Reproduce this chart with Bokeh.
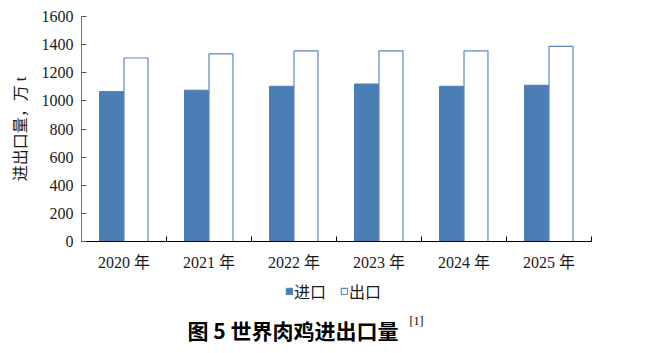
from bokeh.plotting import figure
from bokeh.models import ColumnDataSource, FixedTicker, Legend, LegendItem, Label, Range1d
from bokeh.layouts import column
from bokeh.transform import dodge
from bokeh.embed import file_html
from bokeh.resources import INLINE

years = ["2020 年", "2021 年", "2022 年", "2023 年", "2024 年", "2025 年"]
imports = [1066, 1076, 1104, 1120, 1104, 1111]
exports = [1305, 1334, 1355, 1355, 1355, 1388]
y_ticks = [0, 200, 400, 600, 800, 1000, 1200, 1400, 1600]
series = ["进口", "出口"]
caption = "图 5   世界肉鸡进出口量"
caption_ref = "[1]"

SERIF = "Liberation Serif, Noto Sans CJK SC"
BLUE = "#4a7eb5"
EDGE = "#5a88bf"
TXT = "#1a1a1a"

pos = [i + 0.5 for i in range(len(years))]
src = ColumnDataSource(dict(x=pos, imp=imports, exp=exports))

H_MAIN = 274
p = figure(width=649, height=H_MAIN, output_backend="svg", toolbar_location=None,
           x_range=Range1d(0, len(years)), y_range=Range1d(0, 1600),
           min_border_left=81, min_border_right=58, min_border_top=16, min_border_bottom=33)
p.outline_line_color = None
p.xgrid.grid_line_color = None
p.ygrid.grid_line_color = None

p.vbar(x=dodge("x", -0.147, range=p.x_range), top="imp", width=0.282, source=src,
       fill_color=BLUE, line_color=BLUE, line_width=1)
p.vbar(x=dodge("x", 0.141, range=p.x_range), top="exp", width=0.282, source=src,
       fill_color="white", line_color=EDGE, line_width=1.2)

# x axis: labels at centers, minor ticks at category boundaries (inward)
p.xaxis.ticker = FixedTicker(ticks=pos, minor_ticks=list(range(len(years) + 1)))
p.xaxis.major_label_overrides = {v: s for v, s in zip(pos, years)}
p.xaxis.major_tick_line_color = None
p.xaxis.minor_tick_in = 5
p.xaxis.minor_tick_out = 0
p.xaxis.minor_tick_line_color = "black"
p.xaxis.axis_line_color = "black"
p.xaxis.major_label_text_font = SERIF
p.xaxis.major_label_text_font_size = "16px"
p.xaxis.major_label_text_color = TXT
p.xaxis.major_label_standoff = 6

p.yaxis.ticker = FixedTicker(ticks=y_ticks, minor_ticks=[])
p.yaxis.major_tick_in = 5
p.yaxis.major_tick_out = 0
p.yaxis.major_tick_line_color = "#555555"
p.yaxis.axis_line_color = "#777777"
p.yaxis.major_label_text_font = SERIF
p.yaxis.major_label_text_font_size = "16px"
p.yaxis.major_label_text_color = TXT
p.yaxis.major_label_standoff = 8
p.yaxis.axis_label = "进出口量，万 t"
p.yaxis.axis_label_text_font = SERIF
p.yaxis.axis_label_text_font_size = "16px"
p.yaxis.axis_label_text_font_style = "normal"
p.yaxis.axis_label_text_color = TXT
p.yaxis.axis_label_standoff = 10

# caption panel: legend + figure title (data units = page pixels)
H_CAP = 353 - H_MAIN
c = figure(width=649, height=H_CAP, output_backend="svg", toolbar_location=None,
           x_range=Range1d(81, 591), y_range=Range1d(353, H_MAIN),
           x_axis_type=None, y_axis_type=None,
           min_border_left=81, min_border_right=58, min_border_top=0, min_border_bottom=0)
c.outline_line_color = None
c.xgrid.grid_line_color = None
c.ygrid.grid_line_color = None
d_imp = c.vbar(x="x", top="imp", width=1, source=src, fill_color=BLUE, line_color=BLUE,
               visible=False)
d_exp = c.vbar(x="x", top="exp", width=1, source=src, fill_color="white", line_color=EDGE,
               line_width=1.2, visible=False)

legend = Legend(items=[LegendItem(label=series[0], renderers=[d_imp]),
                       LegendItem(label=series[1], renderers=[d_exp])],
                location=(285 - 81, 50), orientation="horizontal",
                glyph_width=8, glyph_height=8, label_standoff=1, spacing=14,
                padding=0, margin=0, label_height=16,
                label_text_font=SERIF, label_text_font_size="16px", label_text_color=TXT,
                border_line_color=None, background_fill_alpha=0)
c.add_layout(legend, "center")

c.add_layout(Label(x=187, y=329, text=caption,
                   text_font="Noto Sans CJK SC", text_font_style="bold", text_font_size="21px",
                   text_color="black", text_baseline="middle", text_align="left"))
c.add_layout(Label(x=409, y=320, text=caption_ref,
                   text_font="Liberation Serif", text_font_size="12px",
                   text_color="black", text_baseline="middle", text_align="left"))

layout = column(p, c, spacing=0)
open("out.html", "w").write(file_html(layout, INLINE))
